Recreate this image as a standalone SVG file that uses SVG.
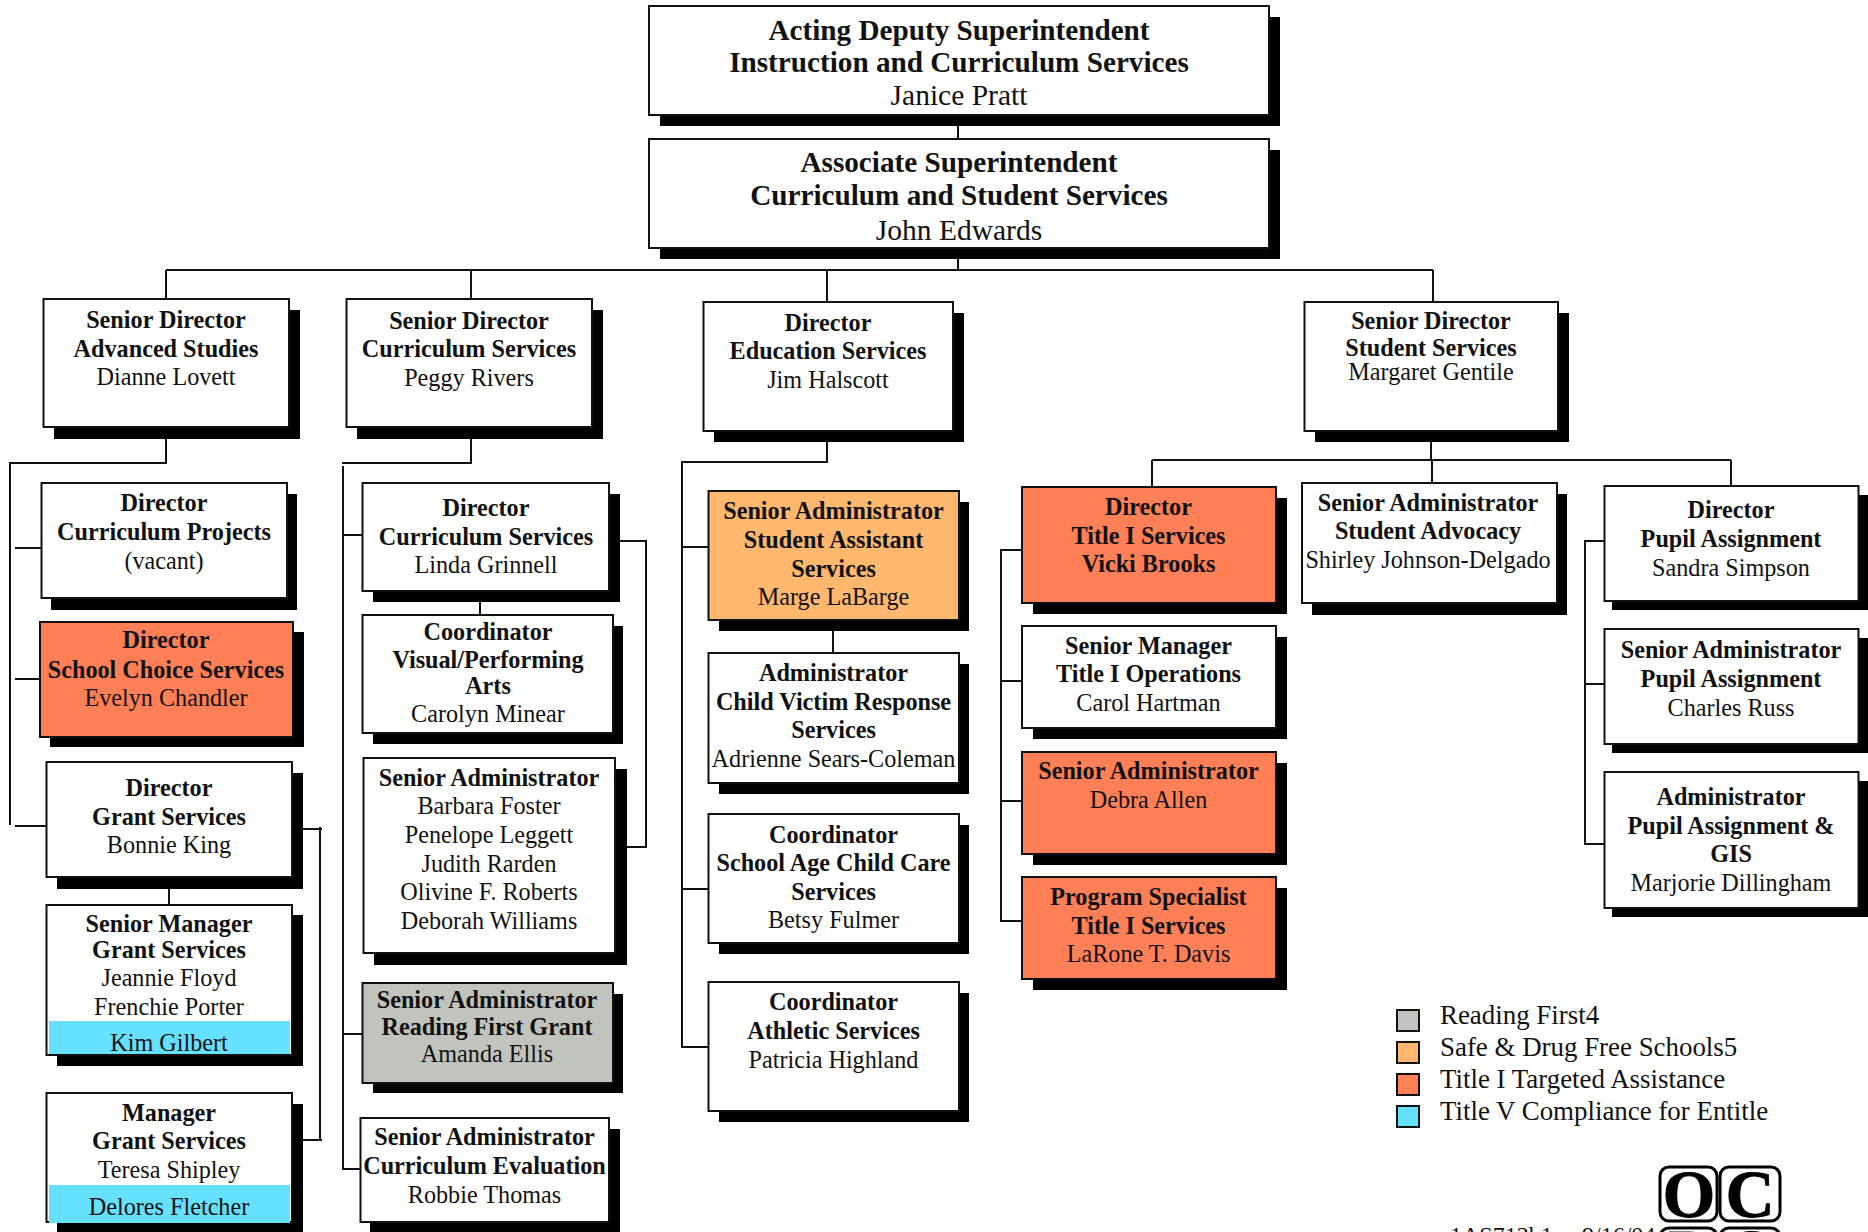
<svg xmlns="http://www.w3.org/2000/svg" width="1868" height="1232" viewBox="0 0 1868 1232">
<style>
text{font-family:"Liberation Serif","Times New Roman",serif;font-size:24.2px;fill:#111;text-anchor:middle}
.b{font-weight:bold}
.top{font-size:29.2px}
.nm{font-size:29.5px}
.s{fill:#000;stroke:none}
.n{fill:#fff;stroke:#111;stroke-width:2}
.o{fill:#ff7f57;stroke:#111;stroke-width:2}
.y{fill:#ffb86e;stroke:#111;stroke-width:2}
.g{fill:#c1c4bd;stroke:#111;stroke-width:2}
.c{fill:#66e0ff;stroke:none}
.lc{fill:none;stroke:#111;stroke-width:2}
.lg{text-anchor:start;font-size:26.9px}
.ft{font-size:24px;text-anchor:start}
.logo{fill:#fff;stroke:#000;stroke-width:3}
.lt{font-size:68px;font-weight:bold;fill:#000;stroke:#000;stroke-width:.8}
</style>
<g id="connectors" class="lc">
<path d="M958 126V138M958 259V270M166 270H1433M166 270V299M471 270V299M827 270V302M1433 270V302"/>
<path d="M166 439V463H10V825M15 548H41M15 679H40M15 826H46"/>
<path d="M471 439V463H342M343 466V1169H360M342 535H362M342 1034H362"/>
<path d="M480 588V615M620 541H646V847H627"/>
<path d="M169 889V905M303 829H322M320 827V1140M303 1140H322"/>
<path d="M827 442V462H682V1047H709M682 547H709M682 889H709M833 631V653"/>
<path d="M1431 442V460M1152 460H1731M1152 460V487M1432 460V483M1731 460V486"/>
<path d="M1021 550H1001V921H1021M1001 681H1021M1001 801H1021"/>
<path d="M1604 541H1585V844H1604M1584 684H1604"/>
</g>
<g id="n-deputy"><rect class="s" x="660" y="17" width="620" height="109"/><rect class="n" x="649" y="6" width="620" height="109"/>
<text class="b top" x="959" y="40">Acting Deputy Superintendent</text><text class="b top" x="959" y="72">Instruction and Curriculum Services</text><text class="nm" x="959" y="105">Janice Pratt</text></g>
<g id="n-assoc"><rect class="s" x="660" y="150" width="620" height="109"/><rect class="n" x="649" y="139" width="620" height="109"/>
<text class="b top" x="959" y="172">Associate Superintendent</text><text class="b top" x="959" y="205">Curriculum and Student Services</text><text class="nm" x="959" y="240">John Edwards</text></g>

<g id="n-advanced"><rect class="s" x="54" y="310" width="246" height="129"/><rect class="n" x="43.5" y="299" width="245.5" height="128"/>
<text class="b" x="166" y="328">Senior Director</text><text class="b" x="166" y="357">Advanced Studies</text><text x="166" y="385">Dianne Lovett</text></g>
<g id="n-curric"><rect class="s" x="357" y="310" width="246" height="129"/><rect class="n" x="346.5" y="299" width="245.5" height="128"/>
<text class="b" x="469" y="329">Senior Director</text><text class="b" x="469" y="357">Curriculum Services</text><text x="469" y="386">Peggy Rivers</text></g>
<g id="n-edu"><rect class="s" x="714" y="313" width="250" height="129"/><rect class="n" x="703.5" y="302" width="249.5" height="129"/>
<text class="b" x="828" y="331">Director</text><text class="b" x="828" y="359">Education Services</text><text x="828" y="388">Jim Halscott</text></g>
<g id="n-student"><rect class="s" x="1315" y="313" width="254" height="129"/><rect class="n" x="1304.5" y="302" width="253.5" height="129"/>
<text class="b" x="1431" y="329">Senior Director</text><text class="b" x="1431" y="356">Student Services</text><text x="1431" y="380">Margaret Gentile</text></g>

<g id="n-projects"><rect class="s" x="51" y="494" width="246" height="116"/><rect class="n" x="41.5" y="483" width="245.5" height="115"/>
<text class="b" x="164" y="511">Director</text><text class="b" x="164" y="540">Curriculum Projects</text><text x="164" y="569">(vacant)</text></g>
<g id="n-choice"><rect class="s" x="50" y="632" width="254" height="115"/><rect class="o" x="40" y="622" width="253" height="115"/>
<text class="b" x="166" y="648">Director</text><text class="b" x="166" y="678">School Choice Services</text><text x="166" y="706">Evelyn Chandler</text></g>
<g id="n-grant"><rect class="s" x="57" y="773" width="246" height="116"/><rect class="n" x="46.5" y="762" width="245.5" height="115"/>
<text class="b" x="169" y="796">Director</text><text class="b" x="169" y="825">Grant Services</text><text x="169" y="853">Bonnie King</text></g>
<g id="n-srmgr"><rect class="s" x="57" y="915" width="246" height="151"/><rect class="n" x="46.5" y="905" width="245.5" height="150"/><rect class="c" x="49" y="1021" width="241" height="33"/>
<text class="b" x="169" y="932">Senior Manager</text><text class="b" x="169" y="958">Grant Services</text><text x="169" y="986">Jeannie Floyd</text><text x="169" y="1015">Frenchie Porter</text><text x="169" y="1051">Kim Gilbert</text></g>
<g id="n-mgr"><rect class="s" x="57" y="1104" width="246" height="128"/><rect class="n" x="46.5" y="1093" width="245.5" height="129"/><rect class="c" x="49" y="1185" width="241" height="38"/>
<text class="b" x="169" y="1121">Manager</text><text class="b" x="169" y="1149">Grant Services</text><text x="169" y="1178">Teresa Shipley</text><text x="169" y="1215">Delores Fletcher</text></g>

<g id="n-linda"><rect class="s" x="373" y="494" width="247" height="108"/><rect class="n" x="362.5" y="483" width="246.5" height="108"/>
<text class="b" x="486" y="516">Director</text><text class="b" x="486" y="545">Curriculum Services</text><text x="486" y="573">Linda Grinnell</text></g>
<g id="n-visual"><rect class="s" x="373" y="626" width="250" height="118"/><rect class="n" x="362.5" y="615" width="250.5" height="118"/>
<text class="b" x="488" y="640">Coordinator</text><text class="b" x="488" y="668">Visual/Performing</text><text class="b" x="488" y="694">Arts</text><text x="488" y="722">Carolyn Minear</text></g>
<g id="n-list"><rect class="s" x="374" y="769" width="253" height="196"/><rect class="n" x="363.5" y="758" width="251.5" height="195"/>
<text class="b" x="489" y="786">Senior Administrator</text><text x="489" y="814">Barbara Foster</text><text x="489" y="843">Penelope Leggett</text><text x="489" y="872">Judith Rarden</text><text x="489" y="900">Olivine F. Roberts</text><text x="489" y="929">Deborah Williams</text></g>
<g id="n-reading"><rect class="s" x="373" y="994" width="250" height="99"/><rect class="g" x="362.5" y="983" width="250.5" height="100"/>
<text class="b" x="487" y="1008">Senior Administrator</text><text class="b" x="487" y="1035">Reading First Grant</text><text x="487" y="1062">Amanda Ellis</text></g>
<g id="n-eval"><rect class="s" x="370" y="1129" width="250" height="103"/><rect class="n" x="360.5" y="1118" width="248.5" height="104"/>
<text class="b" x="484.500" y="1145">Senior Administrator</text><text class="b" x="484.500" y="1174">Curriculum Evaluation</text><text x="484.500" y="1203">Robbie Thomas</text></g>

<g id="n-sas"><rect class="s" x="719" y="502" width="250" height="129"/><rect class="y" x="708.5" y="491" width="250.5" height="129"/>
<text class="b" x="833.500" y="519">Senior Administrator</text><text class="b" x="833.500" y="548">Student Assistant</text><text class="b" x="833.500" y="577">Services</text><text x="833.500" y="605">Marge LaBarge</text></g>
<g id="n-child"><rect class="s" x="719" y="664" width="250" height="130"/><rect class="n" x="708.5" y="653" width="250.5" height="130"/>
<text class="b" x="833.500" y="681">Administrator</text><text class="b" x="833.500" y="710">Child Victim Response</text><text class="b" x="833.500" y="738">Services</text><text x="833.500" y="767">Adrienne Sears-Coleman</text></g>
<g id="n-care"><rect class="s" x="719" y="825" width="250" height="129"/><rect class="n" x="708.5" y="814" width="250.5" height="129"/>
<text class="b" x="833.500" y="843">Coordinator</text><text class="b" x="833.500" y="871">School Age Child Care</text><text class="b" x="833.500" y="900">Services</text><text x="833.500" y="928">Betsy Fulmer</text></g>
<g id="n-athletic"><rect class="s" x="719" y="993" width="250" height="129"/><rect class="n" x="708.5" y="982" width="250.5" height="129"/>
<text class="b" x="833.500" y="1010">Coordinator</text><text class="b" x="833.500" y="1039">Athletic Services</text><text x="833.500" y="1068">Patricia Highland</text></g>

<g id="n-title1"><rect class="s" x="1033" y="498" width="254" height="116"/><rect class="o" x="1022" y="487" width="254" height="116"/>
<text class="b" x="1148.500" y="515">Director</text><text class="b" x="1148.500" y="544">Title I Services</text><text class="b" x="1148.500" y="572">Vicki Brooks</text></g>
<g id="n-ops"><rect class="s" x="1033" y="637" width="254" height="102"/><rect class="n" x="1022" y="626" width="254" height="102"/>
<text class="b" x="1148.500" y="654">Senior Manager</text><text class="b" x="1148.500" y="682">Title I Operations</text><text x="1148.500" y="711">Carol Hartman</text></g>
<g id="n-debra"><rect class="s" x="1033" y="763" width="254" height="102"/><rect class="o" x="1022" y="752" width="254" height="102"/>
<text class="b" x="1148.500" y="779">Senior Administrator</text><text x="1148.500" y="808">Debra Allen</text></g>
<g id="n-larone"><rect class="s" x="1033" y="888" width="254" height="102"/><rect class="o" x="1022" y="877" width="254" height="102"/>
<text class="b" x="1148.500" y="905">Program Specialist</text><text class="b" x="1148.500" y="934">Title I Services</text><text x="1148.500" y="962">LaRone T. Davis</text></g>
<g id="n-advocacy"><rect class="s" x="1312" y="494" width="255" height="121"/><rect class="n" x="1302" y="483" width="255" height="120"/>
<text class="b" x="1428" y="511">Senior Administrator</text><text class="b" x="1428" y="539">Student Advocacy</text><text x="1428" y="568">Shirley Johnson-Delgado</text></g>
<g id="n-pupil1"><rect class="s" x="1612" y="495" width="256" height="115"/><rect class="n" x="1604.5" y="486" width="254" height="115"/>
<text class="b" x="1731" y="518">Director</text><text class="b" x="1731" y="547">Pupil Assignment</text><text x="1731" y="576">Sandra Simpson</text></g>
<g id="n-pupil2"><rect class="s" x="1612" y="638" width="256" height="115"/><rect class="n" x="1604.5" y="629" width="254" height="115"/>
<text class="b" x="1731" y="658">Senior Administrator</text><text class="b" x="1731" y="687">Pupil Assignment</text><text x="1731" y="716">Charles Russ</text></g>
<g id="n-pupil3"><rect class="s" x="1612" y="781" width="256" height="136"/><rect class="n" x="1604.5" y="772" width="254" height="136"/>
<text class="b" x="1731" y="805">Administrator</text><text class="b" x="1731" y="834">Pupil Assignment &amp;</text><text class="b" x="1731" y="862">GIS</text><text x="1731" y="891">Marjorie Dillingham</text></g>

<g id="legend">
<rect class="g" x="1397" y="1010" width="22" height="21"/><text class="lg" x="1440" y="1024">Reading First4</text>
<rect class="y" x="1397" y="1042" width="22" height="21"/><text class="lg" x="1440" y="1056">Safe &amp; Drug Free Schools5</text>
<rect class="o" x="1397" y="1074" width="22" height="21"/><text class="lg" x="1440" y="1088">Title I Targeted Assistance</text>
<rect x="1397" y="1106" width="22" height="21" fill="#66e0ff" stroke="#111" stroke-width="2"/><text class="lg" x="1440" y="1120">Title V Compliance for Entitle</text>
</g>
<g id="footer">
<text class="ft" x="1450" y="1243">1AS712b1</text><text class="ft" x="1582" y="1243">9/16/04</text>
</g>
<g id="logo">
<rect class="logo" x="1660" y="1167" width="57" height="54" rx="9"/><rect class="logo" x="1720" y="1167" width="60" height="54" rx="9"/>
<rect class="logo" x="1660" y="1228" width="57" height="54" rx="9"/><rect class="logo" x="1720" y="1228" width="60" height="54" rx="9"/>
<text class="lt" x="1689" y="1217">O</text><text class="lt" x="1750" y="1217">C</text>
<text class="lt" x="1689" y="1276">P</text><text class="lt" x="1750" y="1276">S</text>
</g>
</svg>
